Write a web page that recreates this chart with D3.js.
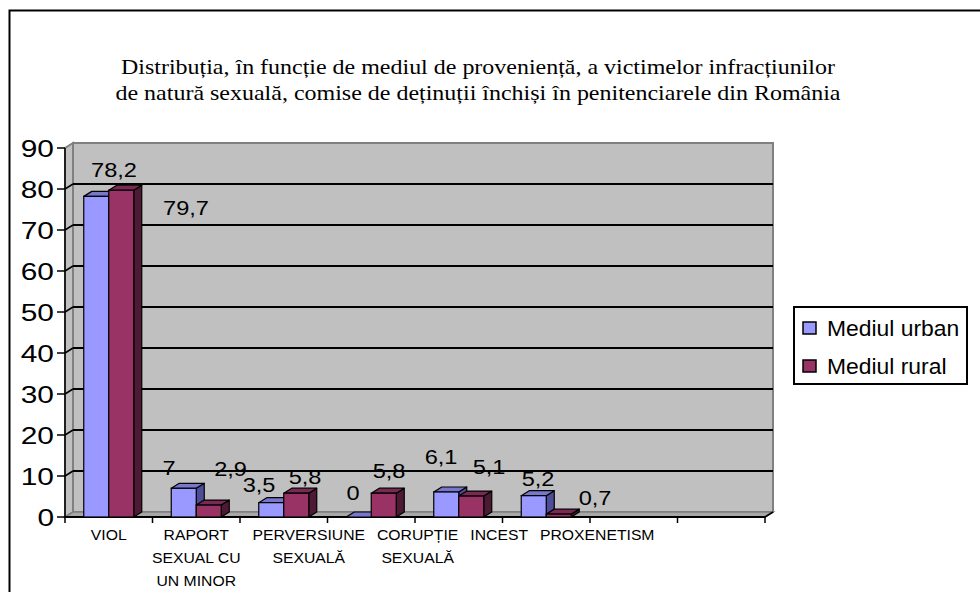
<!DOCTYPE html>
<html>
<head>
<meta charset="utf-8">
<script src="https://cdn.jsdelivr.net/npm/d3@7"></script>
<style>
  html, body { margin: 0; padding: 0; background: #fff; }
  svg { display: block; }
</style>
</head>
<body>
<script>
// ---------- DATA ----------
const titleLines = [
  "Distribuția, în funcție de mediul de proveniență, a victimelor infracțiunilor",
  "de natură sexuală, comise de deținuții închiși în penitenciarele din România"
];
const categoryLines = [
  ["VIOL"],
  ["RAPORT", "SEXUAL CU", "UN MINOR"],
  ["PERVERSIUNE", "SEXUALĂ"],
  ["CORUPȚIE", "SEXUALĂ"],
  ["INCEST"],
  ["PROXENETISM"],
  [""],
  [""]
];
const seriesNames = ["Mediul urban", "Mediul rural"];
const urbanValues = [78.2, 7, 3.5, 0, 6.1, 5.2];
const ruralValues = [79.7, 2.9, 5.8, 5.8, 5.1, 0.7];
const urbanLabels = ["78,2", "7", "3,5", "0", "6,1", "5,2"];
const ruralLabels = ["79,7", "2,9", "5,8", "5,8", "5,1", "0,7"];
const yTicks = [0, 10, 20, 30, 40, 50, 60, 70, 80, 90];

// label nudges (pixels, relative to bar front-top centre) as placed in the original
const urbanLabelNudge = [[17.75, -19.4], [-14.75, -13.3], [-12.25, -11], [-5.75, -17], [-5.25, -28], [4.25, -10]];
const ruralLabelNudge = [[64.75, 24.8], [21.75, -29], [8.75, -9], [5.25, -15], [17.75, -22], [36.25, -9]];

// ---------- LAYOUT ----------
const W = 980, H = 592;
const DX = 8, DY = -5;             // 3D depth offset
const colors = {
  urban: { front: "#9999FF", top: "#7777CC", side: "#4D4D99" },
  rural: { front: "#993366", top: "#7A2952", side: "#4D1A33" }
};

const svg = d3.select("body").append("svg").attr("width", W).attr("height", H);
svg.append("rect").attr("width", W).attr("height", H).attr("fill", "#fff");

// outer frame (cut by the picture edges)
svg.append("rect").attr("x", 9.5).attr("y", 10.5).attr("width", 1000).attr("height", 1000)
  .attr("fill", "none").attr("stroke", "#000").attr("stroke-width", 2);

const x = d3.scaleBand().domain(d3.range(categoryLines.length)).range([65, 765]).paddingInner(0).paddingOuter(0);
const y = d3.scaleLinear().domain([0, 90]).range([517, 148]);
const sub = d3.scaleBand().domain(["urban", "rural"]).range([0, x.bandwidth()]).paddingInner(0).paddingOuter(0.75);

function stext(g, tx, ty, str, size, sx, anchor, family) {
  return g.append("text")
    .attr("transform", `translate(${tx},${ty}) scale(${sx},1)`)
    .attr("text-anchor", anchor)
    .attr("font-family", family || "'Liberation Sans', Arial, sans-serif")
    .attr("font-size", size)
    .attr("fill", "#000")
    .text(str);
}

// ---------- TITLE ----------
const titleG = svg.append("g");
const titleBase = [74, 100];
const titleLen = [714, 725];
titleLines.forEach((t, i) => {
  titleG.append("text")
    .attr("x", 478).attr("y", titleBase[i])
    .attr("text-anchor", "middle")
    .attr("font-family", "'Liberation Serif', 'Times New Roman', serif")
    .attr("font-size", 22)
    .attr("textLength", titleLen[i])
    .attr("lengthAdjust", "spacingAndGlyphs")
    .text(t);
});

// ---------- WALLS ----------
const x0 = x.range()[0], x1 = x.range()[1];
const g = svg.append("g");
g.append("rect").attr("x", x0 + DX).attr("y", y(90) + DY)
  .attr("width", x1 - x0).attr("height", y(0) - y(90))
  .attr("fill", "#C0C0C0").attr("stroke", "#808080").attr("stroke-width", 2);
g.append("polygon")
  .attr("points", [[x0, y(0)], [x0, y(90)], [x0 + DX, y(90) + DY], [x0 + DX, y(0) + DY]].join(" "))
  .attr("fill", "#C0C0C0").attr("stroke", "#808080").attr("stroke-width", 2);
g.append("polygon")
  .attr("points", [[x0, y(0)], [x1, y(0)], [x1 + DX, y(0) + DY], [x0 + DX, y(0) + DY]].join(" "))
  .attr("fill", "#A8A8A8").attr("stroke", "#808080").attr("stroke-width", 1.5);

yTicks.filter(t => t > 0 && t < 90).forEach(t => {
  g.append("line").attr("x1", x0 + DX).attr("x2", x1 + DX)
    .attr("y1", y(t) + DY).attr("y2", y(t) + DY)
    .attr("stroke", "#000").attr("stroke-width", 2);
  g.append("line").attr("x1", x0).attr("x2", x0 + DX)
    .attr("y1", y(t)).attr("y2", y(t) + DY)
    .attr("stroke", "#000").attr("stroke-width", 1.5);
});

g.append("line").attr("x1", x0).attr("x2", x0).attr("y1", y(90)).attr("y2", y(0))
  .attr("stroke", "#000").attr("stroke-width", 1.5);
yTicks.forEach(t => {
  g.append("line").attr("x1", x0 - 8).attr("x2", x0).attr("y1", y(t)).attr("y2", y(t))
    .attr("stroke", "#000").attr("stroke-width", 1.5);
  stext(g, 54, y(t) + 8.5, String(t), 23, 1.3, "end");
});

// ---------- BARS ----------
const barsG = svg.append("g");
function bar3d(gg, bx, bw, v, c) {
  const yt = y(v), yb = y(0), xr = bx + bw;
  gg.append("polygon").attr("points", [[xr, yb], [xr, yt], [xr + DX, yt + DY], [xr + DX, yb + DY]].join(" "))
    .attr("fill", c.side).attr("stroke", "#000").attr("stroke-width", 1.2).attr("stroke-linejoin", "round");
  gg.append("polygon").attr("points", [[bx, yt], [xr, yt], [xr + DX, yt + DY], [bx + DX, yt + DY]].join(" "))
    .attr("fill", c.top).attr("stroke", "#000").attr("stroke-width", 1.2).attr("stroke-linejoin", "round");
  gg.append("rect").attr("x", bx).attr("y", yt).attr("width", bw).attr("height", yb - yt)
    .attr("fill", c.front).attr("stroke", "#000").attr("stroke-width", 1.2);
}
urbanValues.forEach((v, i) => {
  bar3d(barsG, x(i) + sub("urban"), sub.bandwidth(), v, colors.urban);
  bar3d(barsG, x(i) + sub("rural"), sub.bandwidth(), ruralValues[i], colors.rural);
});

g.append("line").attr("x1", x0).attr("x2", x1).attr("y1", y(0)).attr("y2", y(0))
  .attr("stroke", "#000").attr("stroke-width", 2);
g.append("line").attr("x1", x1).attr("x2", x1 + DX).attr("y1", y(0)).attr("y2", y(0) + DY)
  .attr("stroke", "#000").attr("stroke-width", 1.5);
d3.range(categoryLines.length + 1).forEach(i => {
  const tx = x0 + i * x.step();
  svg.append("line").attr("x1", tx).attr("x2", tx).attr("y1", y(0)).attr("y2", y(0) + 6)
    .attr("stroke", "#000").attr("stroke-width", 1.5);
});

// category labels (centred, pushed right when they would collide)
const catG = svg.append("g");
const catSize = 15, catSx = 1.05, catGap = 12;
let prevRight = -Infinity;
categoryLines.forEach((lines, i) => {
  if (lines.join("") === "") return;
  const tmp = lines.map(l => stext(catG, 0, 0, l, catSize, catSx, "middle"));
  const wmax = d3.max(tmp, t => t.node().getComputedTextLength()) * catSx;
  tmp.forEach(t => t.remove());
  let cx = x(i) + x.bandwidth() / 2;
  if (cx - wmax / 2 < prevRight + catGap) cx = prevRight + catGap + wmax / 2;
  prevRight = cx + wmax / 2;
  lines.forEach((l, k) => stext(catG, cx, 540 + k * 23, l, catSize, catSx, "middle"));
});

// data labels
const lblG = svg.append("g");
urbanValues.forEach((v, i) => {
  const cx = x(i) + sub("urban") + sub.bandwidth() / 2;
  stext(lblG, cx + urbanLabelNudge[i][0], y(v) + urbanLabelNudge[i][1], urbanLabels[i], 20.5, 1.15, "middle");
});
ruralValues.forEach((v, i) => {
  const cx = x(i) + sub("rural") + sub.bandwidth() / 2;
  stext(lblG, cx + ruralLabelNudge[i][0], y(v) + ruralLabelNudge[i][1], ruralLabels[i], 20.5, 1.15, "middle");
});

// ---------- LEGEND ----------
const lg = svg.append("g");
lg.append("rect").attr("x", 794).attr("y", 307).attr("width", 173).attr("height", 77)
  .attr("fill", "#fff").attr("stroke", "#000").attr("stroke-width", 2);
[colors.urban.front, colors.rural.front].forEach((c, i) => {
  lg.append("rect").attr("x", 803).attr("y", 322 + i * 38).attr("width", 13).attr("height", 12)
    .attr("fill", c).attr("stroke", "#000").attr("stroke-width", 1.5);
  stext(lg, 827, 336 + i * 38, seriesNames[i], 22, 1.04, "start");
});
</script>
</body>
</html>
